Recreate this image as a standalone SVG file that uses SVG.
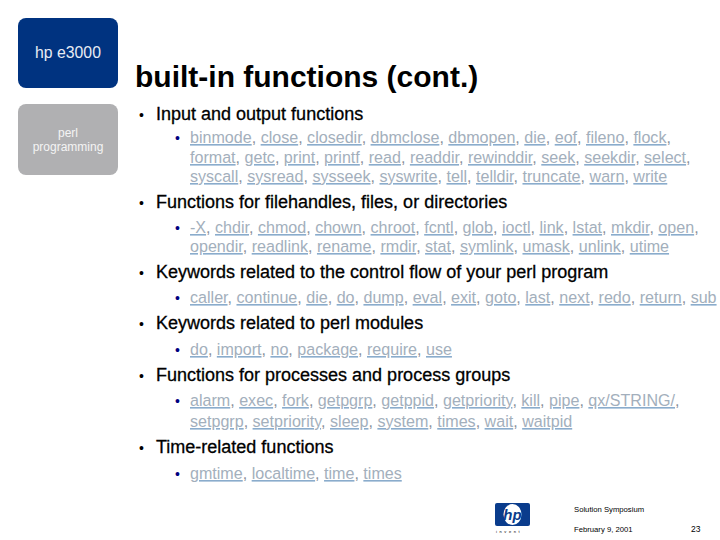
<svg xmlns="http://www.w3.org/2000/svg" width="720" height="540" viewBox="0 0 720 540">
<style>
text{font-family:"Liberation Sans",Arial,sans-serif}
.t{font-size:30px;font-weight:bold;fill:#000}
.h{font-size:18px;fill:#000;stroke:#000;stroke-width:.3}
.d{font-size:14px;fill:#000}
.b{font-size:14px;fill:#000080}
.s{font-size:16.080px;fill:#8a929c}
.s>tspan{fill:#8aaccc;text-decoration:underline;text-decoration-thickness:2px}
.s>tspan>tspan{fill:#a3afbc}
.f{font-size:7.700px;fill:#000}
</style>
<rect width="720" height="540" fill="#fff"/>
<g id="tab-hp"><rect x="18" y="18" width="100" height="70" rx="8" fill="#003380"/><text x="68" y="58" text-anchor="middle" font-size="15.800" fill="#e8ecf4">hp e3000</text></g>
<g id="tab-perl"><rect x="18" y="104" width="100" height="71" rx="8" fill="#b0b0b2"/><text x="68" y="137" text-anchor="middle" font-size="12" fill="#f4f4f4">perl</text><text x="68" y="151" text-anchor="middle" font-size="12" fill="#f4f4f4">programming</text></g>
<text class="t" x="135" y="87">built-in functions (cont.)</text>
<g id="body">
<text class="d" x="139" y="120">•</text><text class="h" x="156" y="120">Input and output functions</text>
<text class="b" x="175" y="143">•</text>
<text class="s" x="190" y="143"><tspan><tspan>binmode</tspan></tspan>, <tspan><tspan>close</tspan></tspan>, <tspan><tspan>closedir</tspan></tspan>, <tspan><tspan>dbmclose</tspan></tspan>, <tspan><tspan>dbmopen</tspan></tspan>, <tspan><tspan>die</tspan></tspan>, <tspan><tspan>eof</tspan></tspan>, <tspan><tspan>fileno</tspan></tspan>, <tspan><tspan>flock</tspan></tspan>,</text>
<text class="s" x="190" y="163"><tspan><tspan>format</tspan></tspan>, <tspan><tspan>getc</tspan></tspan>, <tspan><tspan>print</tspan></tspan>, <tspan><tspan>printf</tspan></tspan>, <tspan><tspan>read</tspan></tspan>, <tspan><tspan>readdir</tspan></tspan>, <tspan><tspan>rewinddir</tspan></tspan>, <tspan><tspan>seek</tspan></tspan>, <tspan><tspan>seekdir</tspan></tspan>, <tspan><tspan>select</tspan></tspan>,</text>
<text class="s" x="190" y="182"><tspan><tspan>syscall</tspan></tspan>, <tspan><tspan>sysread</tspan></tspan>, <tspan><tspan>sysseek</tspan></tspan>, <tspan><tspan>syswrite</tspan></tspan>, <tspan><tspan>tell</tspan></tspan>, <tspan><tspan>telldir</tspan></tspan>, <tspan><tspan>truncate</tspan></tspan>, <tspan><tspan>warn</tspan></tspan>, <tspan><tspan>write</tspan></tspan></text>
<text class="d" x="139" y="208">•</text><text class="h" x="156" y="208">Functions for filehandles, files, or directories</text>
<text class="b" x="175" y="233">•</text>
<text class="s" x="190" y="233"><tspan><tspan>-X</tspan></tspan>, <tspan><tspan>chdir</tspan></tspan>, <tspan><tspan>chmod</tspan></tspan>, <tspan><tspan>chown</tspan></tspan>, <tspan><tspan>chroot</tspan></tspan>, <tspan><tspan>fcntl</tspan></tspan>, <tspan><tspan>glob</tspan></tspan>, <tspan><tspan>ioctl</tspan></tspan>, <tspan><tspan>link</tspan></tspan>, <tspan><tspan>lstat</tspan></tspan>, <tspan><tspan>mkdir</tspan></tspan>, <tspan><tspan>open</tspan></tspan>,</text>
<text class="s" x="190" y="252"><tspan><tspan>opendir</tspan></tspan>, <tspan><tspan>readlink</tspan></tspan>, <tspan><tspan>rename</tspan></tspan>, <tspan><tspan>rmdir</tspan></tspan>, <tspan><tspan>stat</tspan></tspan>, <tspan><tspan>symlink</tspan></tspan>, <tspan><tspan>umask</tspan></tspan>, <tspan><tspan>unlink</tspan></tspan>, <tspan><tspan>utime</tspan></tspan></text>
<text class="d" x="139" y="278">•</text><text class="h" x="156" y="278">Keywords related to the control flow of your perl program</text>
<text class="b" x="175" y="303">•</text>
<text class="s" x="190" y="303"><tspan><tspan>caller</tspan></tspan>, <tspan><tspan>continue</tspan></tspan>, <tspan><tspan>die</tspan></tspan>, <tspan><tspan>do</tspan></tspan>, <tspan><tspan>dump</tspan></tspan>, <tspan><tspan>eval</tspan></tspan>, <tspan><tspan>exit</tspan></tspan>, <tspan><tspan>goto</tspan></tspan>, <tspan><tspan>last</tspan></tspan>, <tspan><tspan>next</tspan></tspan>, <tspan><tspan>redo</tspan></tspan>, <tspan><tspan>return</tspan></tspan>, <tspan><tspan>sub</tspan></tspan></text>
<text class="d" x="139" y="329">•</text><text class="h" x="156" y="329">Keywords related to perl modules</text>
<text class="b" x="175" y="355">•</text>
<text class="s" x="190" y="355"><tspan><tspan>do</tspan></tspan>, <tspan><tspan>import</tspan></tspan>, <tspan><tspan>no</tspan></tspan>, <tspan><tspan>package</tspan></tspan>, <tspan><tspan>require</tspan></tspan>, <tspan><tspan>use</tspan></tspan></text>
<text class="d" x="139" y="381">•</text><text class="h" x="156" y="381">Functions for processes and process groups</text>
<text class="b" x="175" y="406">•</text>
<text class="s" x="190" y="406"><tspan><tspan>alarm</tspan></tspan>, <tspan><tspan>exec</tspan></tspan>, <tspan><tspan>fork</tspan></tspan>, <tspan><tspan>getpgrp</tspan></tspan>, <tspan><tspan>getppid</tspan></tspan>, <tspan><tspan>getpriority</tspan></tspan>, <tspan><tspan>kill</tspan></tspan>, <tspan><tspan>pipe</tspan></tspan>, <tspan><tspan>qx/STRING/</tspan></tspan>,</text>
<text class="s" x="190" y="427"><tspan><tspan>setpgrp</tspan></tspan>, <tspan><tspan>setpriority</tspan></tspan>, <tspan><tspan>sleep</tspan></tspan>, <tspan><tspan>system</tspan></tspan>, <tspan><tspan>times</tspan></tspan>, <tspan><tspan>wait</tspan></tspan>, <tspan><tspan>waitpid</tspan></tspan></text>
<text class="d" x="139" y="453">•</text><text class="h" x="156" y="453">Time-related functions</text>
<text class="b" x="175" y="479">•</text>
<text class="s" x="190" y="479"><tspan><tspan>gmtime</tspan></tspan>, <tspan><tspan>localtime</tspan></tspan>, <tspan><tspan>time</tspan></tspan>, <tspan><tspan>times</tspan></tspan></text>
</g>
<g id="logo"><rect x="495" y="503" width="35" height="23" rx="2" fill="#0a3c8c"/><ellipse cx="512.500" cy="514.500" rx="9" ry="10.500" fill="#fff"/><text x="512.500" y="520" text-anchor="middle" font-size="15" font-weight="bold" font-style="italic" fill="#0a3c8c">hp</text><text x="496" y="533" font-size="4" letter-spacing="2.600" fill="#000">invent</text></g>
<g id="footer"><text class="f" x="574" y="512">Solution Symposium</text><text class="f" x="574" y="532">February 9, 2001</text><text x="691" y="532" font-size="8.500" fill="#000">23</text></g>
</svg>
